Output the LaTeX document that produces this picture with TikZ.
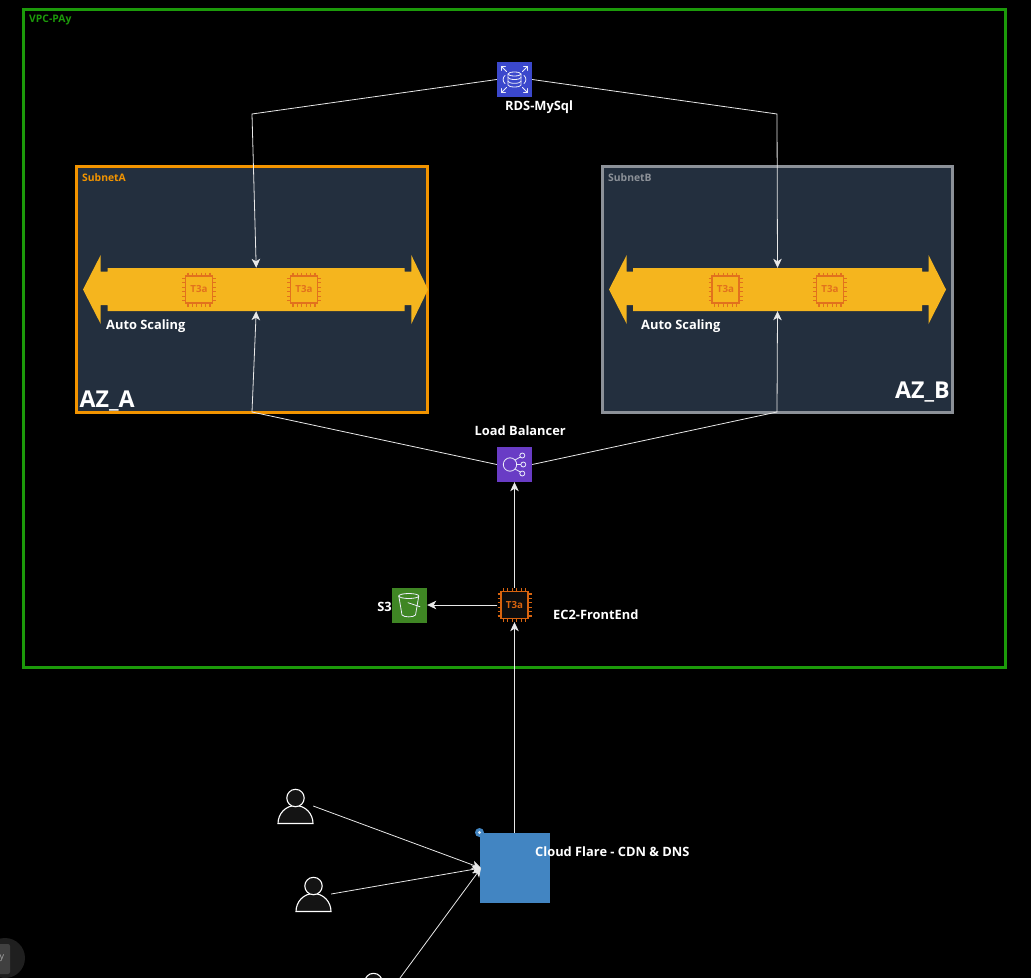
\documentclass[tikz,border=0pt]{standalone}
\usepackage{fontspec}
\setmainfont{Open Sans}
\usetikzlibrary{arrows.meta}
\definecolor{vpcgreen}{HTML}{1C9A0A}
\definecolor{subnetbg}{HTML}{232F3E}
\definecolor{subnetorange}{HTML}{F29400}
\definecolor{subnetgray}{HTML}{8C9198}
\definecolor{barcolor}{HTML}{F5B51E}
\definecolor{chipcolor}{HTML}{E2711D}
\definecolor{ecchip}{HTML}{D8640F}
\definecolor{rdsblue}{HTML}{3B48CC}
\definecolor{lbpurple}{HTML}{693CC5}
\definecolor{sgreen}{HTML}{3F8624}
\definecolor{cfblue}{HTML}{4285C2}
\definecolor{linkcolor}{HTML}{E8E8E8}
\tikzset{
  link/.style={draw=linkcolor,line width=0.8bp,-{Stealth[length=9bp,width=8.5bp,inset=2.5bp]}},
  awsbox/.style={inner sep=0,minimum size=35bp,draw=none},
  iconline/.style={draw=white!90!rdsblue,line width=0.8bp,line cap=round,line join=round},
  holder/.style={inner sep=0,minimum size=34bp,draw=none},
  subnet/.style={fill=subnetbg,line width=3bp},
  lab/.style={anchor=west,inner sep=0,text=white,font=\fontsize{12.9}{15}\selectfont\bfseries},
  smalllab/.style={anchor=west,inner sep=0,font=\fontsize{10.4}{12}\selectfont\bfseries},
  azlab/.style={anchor=west,inner sep=0,text=white,font=\fontsize{23.3}{27}\selectfont\bfseries},
  chip/.pic={
    \foreach \t in {-11,-6.6,-2.2,2.2,6.6,11}{
      \draw[draw=#1,line width=1.1bp] (\t,-17)--(\t,-13.5) (\t,13.5)--(\t,17) (-17,\t)--(-13.5,\t) (13.5,\t)--(17,\t);
    }
    \draw[draw=#1,line width=1.5bp] (-13.5,-13.5) rectangle (13.5,13.5);
    \node[inner sep=0,text=#1,font=\fontsize{9.8}{11}\selectfont\bfseries] at (0,0) {T3a};
  },
  person/.pic={
    \draw[draw=white,line width=1.1bp,fill=black!92!white] (-17.5,17.5) arc[start angle=180,end angle=0,x radius=17.5bp,y radius=18bp] -- cycle;
    \draw[draw=white,line width=1.1bp,fill=black!92!white] (0,-8) circle[radius=8.7bp];
  }
}
\begin{document}
\begin{tikzpicture}[x=1bp,y=-1bp]
\useasboundingbox (0,0) rectangle (1031,978);
\clip (0,0) rectangle (1031,978);
\fill[black] (0,0) rectangle (1031,978);

% bottom-left widget
\fill[black!88!white] (5,958) circle[radius=20bp];
\fill[black!75!white,rounded corners=2bp] (-6,944) rectangle (10,974);
\node[inner sep=0,text=black!35!white,font=\fontsize{9}{10}\selectfont] (widget) at (2,958) {y};

% VPC
\draw[draw=vpcgreen,line width=3bp] (23.7,9.5) rectangle (1005.5,667);
\node[smalllab,text=vpcgreen] (vpclab) at (29,19.5) {VPC-PAy};

% subnets
\draw[subnet,draw=subnetorange] (76.5,166.5) rectangle (427,412);
\draw[subnet,draw=subnetgray] (602.5,166.5) rectangle (952.5,412);
\node[smalllab,text=subnetorange] (sublabA) at (82,177.5) {SubnetA};
\node[smalllab,text=subnetgray] (sublabB) at (608,177.5) {SubnetB};

% auto scaling bars
\fill[barcolor] (83,289.5)--(100.7,255)--(100.7,271.7)--(107.7,271.7)--(107.7,268)--(404.7,268)--(404.7,271.7)--(411.3,271.7)--(411.3,255)--(428,289.5)--(411.3,324)--(411.3,305)--(404.7,305)--(404.7,311)--(107.7,311)--(107.7,305)--(100.7,305)--(100.7,324)--cycle;
\fill[barcolor] (609,289.5)--(626.7,255)--(626.7,271.7)--(633,271.7)--(633,268)--(922,268)--(922,271.7)--(928.5,271.7)--(928.5,255)--(946,289.5)--(928.5,324)--(928.5,305)--(922,305)--(922,311)--(633,311)--(633,305)--(626.7,305)--(626.7,324)--cycle;
\node[inner sep=0,minimum width=297bp,minimum height=43bp] (barA) at (256.2,289.5) {};
\node[inner sep=0,minimum width=289bp,minimum height=43bp] (barB) at (777.5,289.5) {};

% chips on the bars
\pic at (199,289.5) {chip=chipcolor};
\pic at (304,289.5) {chip=chipcolor};
\pic at (725.5,289.5) {chip=chipcolor};
\pic at (830,289.5) {chip=chipcolor};
\node[holder] (chipA1) at (199,289.5) {};
\node[holder] (chipA2) at (304,289.5) {};
\node[holder] (chipB1) at (725.5,289.5) {};
\node[holder] (chipB2) at (830,289.5) {};

\node[lab] (asA) at (106,326.5) {Auto Scaling};
\node[lab] (asB) at (641,326.5) {Auto Scaling};
\node[azlab] (azA) at (79.5,401.5) {AZ\_A};
\node[azlab] (azB) at (895,392.5) {AZ\_B};

% RDS
\node[awsbox,fill=rdsblue] (rds) at (514.5,79.5) {};
\begin{scope}[shift={(514.5,79.5)}]
  \draw[iconline] (0,-5.5) ellipse[x radius=6.5bp,y radius=2bp];
  \draw[iconline] (-6.5,-5.5)--(-6.5,5.5) arc[start angle=180,end angle=360,x radius=6.5bp,y radius=2bp]--(6.5,-5.5);
  \draw[iconline] (-6.5,-2) arc[start angle=180,end angle=360,x radius=6.5bp,y radius=2bp];
  \draw[iconline] (-6.5,1.8) arc[start angle=180,end angle=360,x radius=6.5bp,y radius=2bp];
  \draw[iconline] (-9.5,-4) .. controls (-12,-2) and (-12,2) .. (-9.5,4);
  \draw[iconline] (9.5,-4) .. controls (12,-2) and (12,2) .. (9.5,4);
  \foreach \sx/\sy in {-1/-1,1/-1,-1/1,1/1}{
    \draw[iconline] (\sx*8,\sy*8)--(\sx*13,\sy*13) (\sx*13,\sy*9)--(\sx*13,\sy*13)--(\sx*9,\sy*13);
  }
\end{scope}
\node[lab] (rdslab) at (505,107) {RDS-MySql};

% Load balancer
\node[awsbox,fill=lbpurple] (lb) at (514.5,464.5) {};
\begin{scope}[shift={(514.5,464.5)}]
  \draw[iconline] (-4.5,0) circle[radius=6.7bp];
  \draw[iconline] (7.8,-9) circle[radius=2.5bp] (8.8,0) circle[radius=2.5bp] (7.8,9) circle[radius=2.5bp];
  \draw[iconline] (0.5,-4.5)--(5.8,-7.5) (2.2,0)--(6.3,0) (0.5,4.5)--(5.8,7.5);
\end{scope}
\node[lab] (lblab) at (474.5,431) {Load Balancer};

% S3
\node[awsbox,fill=sgreen] (s3) at (409.5,605) {};
\begin{scope}[shift={(409.5,605)}]
  \draw[iconline] (-0.7,-9) ellipse[x radius=10bp,y radius=2.5bp];
  \draw[iconline] (-10.7,-9)--(-7.5,10) .. controls (-5.5,12.5) and (4,12.5) .. (6,10)--(9.3,-9);
  \draw[iconline] (-1.5,-2.3)--(10.5,1.7);
\end{scope}
\node[lab,anchor=east] (s3lab) at (392,607) {S3};

% EC2
\fill[black!95!white] (501,591.5) rectangle (528,618.5);
\pic at (514.5,605) {chip=ecchip};
\node[holder] (ec2) at (514.5,605) {};
\node[lab] (eclab) at (553,615) {EC2-FrontEnd};

% Cloud Flare
\node[inner sep=0,minimum size=70bp,fill=cfblue] (cf) at (514.5,868) {};
\fill[cfblue] (479.5,832.5) circle[radius=4.5bp];
\fill[white!80!cfblue] (479.5,832.5) circle[radius=1.6bp];
\node[lab] (cflab) at (535,852) {Cloud Flare - CDN \& DNS};

% users
\pic at (295.5,806) {person};
\pic at (313.5,894) {person};
\pic at (373.5,990) {person};
\node[inner sep=0,minimum size=35bp] (u1) at (295.5,806) {};
\node[inner sep=0,minimum size=35bp] (u2) at (313.5,894) {};
\node[inner sep=0,minimum size=35bp] (u3) at (373.5,990) {};
\coordinate (cfin) at (481,868);

% connector bends
\coordinate (bendRA) at (252,114);
\coordinate (bendRB) at (777,114);
\coordinate (bendLA) at (252,412);
\coordinate (bendLB) at (777,412);

\draw[link] (rds.west)--(bendRA)--(barA.north);
\draw[link] (rds.east)--(bendRB)--(barB.north);
\draw[link] (lb.west)--(bendLA)--(barA.south);
\draw[link] (lb.east)--(bendLB)--(barB.south);
\draw[link] (ec2.north)--(lb.south);
\draw[link] (ec2.west)--(s3.east);
\draw[link] (cf.north)--(ec2.south);
\draw[link] (u1.east)--(cfin);
\draw[link] (u2.east)--(cfin);
\draw[link] (u3.east)--(cfin);
\end{tikzpicture}
\end{document}
